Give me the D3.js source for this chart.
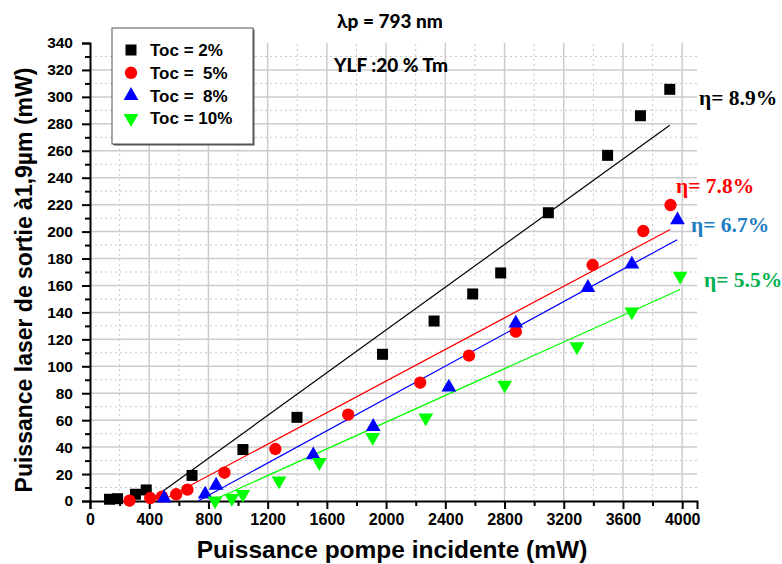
<!DOCTYPE html>
<html><head><meta charset="utf-8">
<script src="https://cdn.jsdelivr.net/npm/d3@7"></script>
<style>
body{margin:0;background:#fff}
text{font-family:"Liberation Sans",Arial,sans-serif;font-weight:bold}
</style></head>
<body><svg id="c" width="782" height="564"></svg>
<script>
// ---- data ----
const xMajorTicks=[0,400,800,1200,1600,2000,2400,2800,3200,3600,4000];
const xMinorTicks=[200,600,1000,1400,1800,2200,2600,3000,3400,3800];
const yMajorTicks=[0,20,40,60,80,100,120,140,160,180,200,220,240,260,280,300,320,340];
const yMinorTicks=[10,30,50,70,90,110,130,150,170,190,210,230,250,270,290,310,330];

const seriesNames=["Toc = 2%","Toc =  5%","Toc =  8%","Toc = 10%"];
const seriesColors=["#000000","#ff0000","#0000ff","#00ff00"];
const seriesShapes=["square","circle","triUp","triDown"];

const toc2X=[132,186,307,380,689,1033,1398,1976,2324,2585,2774,3096,3496,3718,3916];
const toc2Y=[1.3,1.7,5,8.2,19,38.2,62.1,108.9,133.6,153.7,169.3,214,256.6,286,305.6];
const toc5X=[267,407,486,582,658,908,1252,1744,2230,2560,2876,3395,3737,3921];
const toc5Y=[0.2,2.2,3.2,5,8.4,21,38.6,64.1,87.8,107.9,125.7,175.2,200.4,219.7];
const toc8X=[501,778,852,1508,1913,2424,2876,3363,3660,3968];
const toc8Y=[2,5,11.6,34.1,55.2,84.4,131.9,158.4,175.7,208.6];
const toc10X=[845,958,1032,1277,1549,1909,2268,2801,3289,3660,3986];
const toc10Y=[0.2,2,5,15.1,28.7,47.3,61.8,86.1,114.6,140.5,167];

// linear fits: [x0, y0, x1, y1]
const fit2=[400,0,3916,279];
const fit5=[480,0,3919,201.5];
const fit8=[730,0,3966,194];
const fit10=[820,0,3986,157];

const etaLabels=["η= 8.9%","η= 7.8%","η= 6.7%","η= 5.5%"];
const etaColors=["#000000","#ff0000","#1f7dc1","#00b050"];

// ---- chart ----
const svg=d3.select("#c");
const x=d3.scaleLinear().domain([0,4100]).range([90,697]);
const y=d3.scaleLinear().domain([0,340]).range([501,43]);

const grid=svg.append("g");
grid.selectAll(".vmaj").data(xMajorTicks.filter(d=>d>0)).join("line")
 .attr("x1",d=>x(d)).attr("x2",d=>x(d)).attr("y1",y(0)).attr("y2",y(340))
 .attr("stroke","#cccccc").attr("stroke-width",1.5);
grid.selectAll(".vmin").data(xMinorTicks).join("line")
 .attr("x1",d=>x(d)).attr("x2",d=>x(d)).attr("y1",y(0)).attr("y2",y(340))
 .attr("stroke","#c8c8c8").attr("stroke-width",1).attr("stroke-dasharray","2,3");
grid.selectAll(".hmaj").data(yMajorTicks.filter(d=>d>0&&d<340)).join("line")
 .attr("x1",x(0)).attr("x2",x(4100)).attr("y1",d=>y(d)).attr("y2",d=>y(d))
 .attr("stroke","#cccccc").attr("stroke-width",1.5);
grid.selectAll(".hmin").data(yMinorTicks).join("line")
 .attr("x1",x(0)).attr("x2",x(4100)).attr("y1",d=>y(d)).attr("y2",d=>y(d))
 .attr("stroke","#c8c8c8").attr("stroke-width",1).attr("stroke-dasharray","2,3");

// axes
const xAx=svg.append("g").attr("transform",`translate(0,${y(0)})`)
 .call(d3.axisBottom(x).tickValues(xMajorTicks).tickSize(8).tickPadding(5).tickFormat(d3.format("d")));
const xAxMin=svg.append("g").attr("transform",`translate(0,${y(0)})`)
 .call(d3.axisBottom(x).tickValues(xMinorTicks).tickSize(5).tickFormat(""));
const yAx=svg.append("g").attr("transform",`translate(${x(0)},0)`)
 .call(d3.axisLeft(y).tickValues(yMajorTicks).tickSize(8).tickPadding(9).tickFormat(d3.format("d")));
const yAxMin=svg.append("g").attr("transform",`translate(${x(0)},0)`)
 .call(d3.axisLeft(y).tickValues(yMinorTicks).tickSize(5).tickFormat(""));
[xAx,xAxMin,yAx,yAxMin].forEach(a=>{
 a.select(".domain").attr("stroke","#000").attr("stroke-width",2);
 a.selectAll(".tick line").attr("stroke","#000").attr("stroke-width",2);
 a.selectAll(".tick text").attr("fill","#000").style("font-weight","bold")
  .style("font-family","'Liberation Sans',Arial,sans-serif");
});
xAx.selectAll(".tick text").style("font-size","16px");
yAx.selectAll(".tick text").style("font-size","15.5px");
xAxMin.select(".domain").remove(); yAxMin.select(".domain").remove();

// fit lines
const fits=[fit2,fit5,fit8,fit10];
fits.forEach((f,i)=>{
 svg.append("line").attr("x1",x(f[0])).attr("y1",y(f[1])).attr("x2",x(f[2])).attr("y2",y(f[3]))
  .attr("stroke",seriesColors[i]).attr("stroke-width",1.2);
});

// markers
const sym={
 square:d3.symbol().type(d3.symbolSquare).size(121),
 circle:d3.symbol().type(d3.symbolCircle).size(120),
 triUp:d3.symbol().type(d3.symbolTriangle).size(95),
 triDown:d3.symbol().type(d3.symbolTriangle).size(95)
};
const allX=[toc2X,toc5X,toc8X,toc10X], allY=[toc2Y,toc5Y,toc8Y,toc10Y];
allX.forEach((xs,i)=>{
 const pts=xs.map((v,j)=>[v,allY[i][j]]);
 svg.append("g").selectAll("path").data(pts).join("path")
  .attr("d",sym[seriesShapes[i]]())
  .attr("transform",d=>`translate(${x(d[0])},${y(d[1])})`+(seriesShapes[i]==="triDown"?" rotate(180)":""))
  .attr("fill",seriesColors[i]);
});

// legend
const lg=svg.append("g");
lg.append("rect").attr("x",113.5).attr("y",29.5).attr("width",141).attr("height",116).attr("fill","#555");
lg.append("rect").attr("x",112).attr("y",28).attr("width",141).attr("height",116).attr("fill","#fff").attr("stroke","#555").attr("stroke-width",1);
seriesNames.forEach((n,i)=>{
 const cy=50+i*22.8;
 lg.append("path").attr("d",sym[seriesShapes[i]]())
  .attr("transform",`translate(131,${cy})`+(seriesShapes[i]==="triDown"?" rotate(180)":""))
  .attr("fill",seriesColors[i]);
 lg.append("text").attr("x",150).attr("y",cy+6).attr("xml:space","preserve").style("white-space","pre")
  .style("font-size","17px").text(n);
});

// titles
svg.append("text").attr("x",390).attr("y",28).attr("text-anchor","middle").style("font-family","Lato,'Open Sans',sans-serif").style("font-weight","900").style("font-size","19px").text("λp = 793 nm");
svg.append("text").attr("x",391).attr("y",72).attr("text-anchor","middle").style("font-family","Lato,'Open Sans',sans-serif").style("font-weight","900").style("font-size","19px").text("YLF :20 % Tm");

// eta labels
const etaPos=[[699,105],[676,193],[691,232],[704,287]];
etaLabels.forEach((t,i)=>{
 svg.append("text").attr("x",etaPos[i][0]).attr("y",etaPos[i][1]).attr("fill",etaColors[i])
  .style("font-family","'Liberation Serif','Times New Roman',serif").style("font-size","21.5px").text(t);
});

// axis titles
svg.append("text").attr("x",392).attr("y",558).attr("text-anchor","middle").style("font-size","24.5px").text("Puissance pompe incidente (mW)");
svg.append("text").attr("transform","translate(32,280) rotate(-90)").attr("text-anchor","middle").style("font-size","23px")
 .text("Puissance laser de sortie à1,9µm (mW)");
</script></body></html>
